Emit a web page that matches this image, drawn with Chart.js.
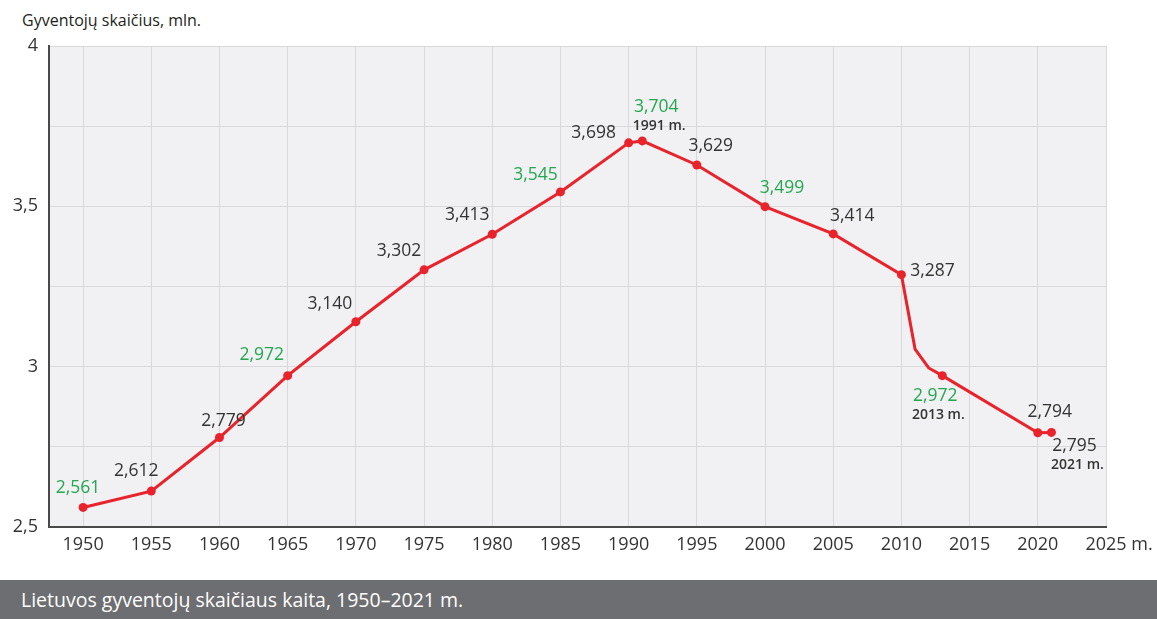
<!DOCTYPE html>
<html>
<head>
<meta charset="utf-8">
<script src="https://cdn.jsdelivr.net/npm/chart.js@4/dist/chart.umd.min.js"></script>
<style>
  body { margin: 0; width: 1157px; height: 619px; position: relative; background: #fff; overflow: hidden; font-family: 'Open Sans', sans-serif; }
  #ytitle { position: absolute; left: 22px; top: 9px; font-size: 16px; color: #231f20; }
  #wrap { position: absolute; left: 0; top: 0; width: 1157px; height: 575px; }
  #caption { position: absolute; left: 0; top: 580px; width: 1157px; height: 39px; box-sizing: border-box; padding-left: 21px;
    background: #6d6e71; color: #fff; font-size: 19.5px; line-height: 39px; }
</style>
</head>
<body>
<div id="ytitle">Gyventojų skaičius, mln.</div>
<div id="wrap"><canvas id="chart" width="1157" height="575"></canvas></div>
<div id="caption">Lietuvos gyventojų skaičiaus kaita, 1950–2021 m.</div>
<script>
// data
const years = [1950, 1955, 1960, 1965, 1970, 1975, 1980, 1985, 1990, 1991, 1995, 2000, 2005, 2010, 2011, 2012, 2013, 2020, 2021];
const population = [2.561, 2.612, 2.779, 2.972, 3.140, 3.302, 3.413, 3.545, 3.698, 3.704, 3.629, 3.499, 3.414, 3.287, 3.055, 2.996, 2.972, 2.794, 2.795];
const highlightYears = [1950, 1965, 1985, 1991, 2000, 2013];
const noteYears = [1991, 2013, 2021];
const unmarkedYears = [2011, 2012];
const xTicks = [1950, 1955, 1960, 1965, 1970, 1975, 1980, 1985, 1990, 1995, 2000, 2005, 2010, 2015, 2020, 2025];
const yTicks = [2.5, 2.75, 3, 3.25, 3.5, 3.75, 4];
const yLabels = [2.5, 3, 3.5, 4];

const RED = '#e8232b';
const GREEN = '#25a750';
const TEXT = '#333333';
const FONT = "'Open Sans', sans-serif";

// where each value label sits, relative to its point
const labelPos = {
  1950: [-5, -19], 1955: [-15, -20], 1960: [4, -17], 1965: [-26, -21], 1970: [-26, -18],
  1975: [-25, -19], 1980: [-25, -19], 1985: [-25, -17], 1990: [-35, -10], 1991: [14, -34],
  1995: [14, -19], 2000: [17, -19], 2005: [19, -18], 2010: [31, -4], 2013: [-7, 20],
  2020: [12, -21], 2021: [23, 14]
};

const fmt = v => v.toString().replace('.', ',');

const plotBackground = {
  id: 'plotBackground',
  beforeDraw(chart) {
    const { ctx, chartArea: a } = chart;
    ctx.save();
    ctx.fillStyle = '#f1f1f4';
    ctx.fillRect(a.left, a.top, a.right - a.left, a.bottom - a.top);
    ctx.restore();
  }
};

const valueLabels = {
  id: 'valueLabels',
  afterDatasetsDraw(chart) {
    const { ctx } = chart;
    const meta = chart.getDatasetMeta(0);
    ctx.save();
    ctx.textAlign = 'center';
    ctx.textBaseline = 'middle';
    meta.data.forEach((pt, i) => {
      const yr = years[i];
      const pos = labelPos[yr];
      if (!pos) return;
      const x = pt.x + pos[0];
      const y = pt.y + pos[1];
      ctx.font = '17.5px ' + FONT;
      ctx.fillStyle = highlightYears.includes(yr) ? GREEN : TEXT;
      ctx.fillText(population[i].toFixed(3).replace('.', ','), x, y);
      if (noteYears.includes(yr)) {
        ctx.font = '600 14px ' + FONT;
        ctx.fillStyle = TEXT;
        ctx.fillText(yr + ' m.', x + 3, y + 19);
      }
    });
    ctx.restore();
  }
};

// "m." after the last year on the x axis
const axisUnit = {
  id: 'axisUnit',
  afterDraw(chart) {
    const xs = chart.scales.x;
    const items = xs.getLabelItems();
    const last = items[items.length - 1];
    if (!last) return;
    const { ctx } = chart;
    ctx.save();
    ctx.font = '18px ' + FONT;
    ctx.fillStyle = TEXT;
    ctx.textAlign = 'left';
    ctx.textBaseline = last.options.textBaseline;
    const w = ctx.measureText(last.label).width;
    const [lx, ly] = last.options.translation;
    ctx.fillText(' m.', lx + w / 2, ly + (last.textOffset || 0));
    ctx.restore();
  }
};

new Chart(document.getElementById('chart'), {
  type: 'line',
  data: {
    datasets: [{
      data: years.map((yr, i) => ({ x: yr, y: population[i] })),
      borderColor: RED,
      backgroundColor: RED,
      borderWidth: 3,
      pointRadius: years.map(yr => unmarkedYears.includes(yr) ? 0 : 4.5),
      pointBorderWidth: 0,
      pointHoverRadius: 0,
      tension: 0,
      clip: false
    }]
  },
  options: {
    responsive: false,
    animation: false,
    devicePixelRatio: 1,
    layout: { padding: { top: 46, right: 51, bottom: 0, left: 0 } },
    plugins: { legend: { display: false }, tooltip: { enabled: false } },
    events: [],
    scales: {
      x: {
        type: 'linear',
        min: 1947.5,
        max: 2025,
        afterBuildTicks: s => { s.ticks = xTicks.map(v => ({ value: v })); },
        afterFit: s => { s.height = 48; },
        grid: { color: '#d9d9dc', lineWidth: 1, drawTicks: false },
        border: { display: true, color: '#4a4a4a', width: 2 },
        ticks: {
          autoSkip: false, maxRotation: 0, padding: 7,
          color: TEXT, font: { family: FONT, size: 18 },
          callback: v => String(v)
        }
      },
      y: {
        min: 2.5,
        max: 4,
        afterBuildTicks: s => { s.ticks = yTicks.map(v => ({ value: v })); },
        afterFit: s => { s.width = 49; },
        grid: { color: '#d9d9dc', lineWidth: 1, drawTicks: false },
        border: { display: true, color: '#4a4a4a', width: 2 },
        ticks: {
          padding: 11,
          color: TEXT, font: { family: FONT, size: 18 },
          callback: v => yLabels.includes(v) ? fmt(v) : ''
        }
      }
    }
  },
  plugins: [plotBackground, valueLabels, axisUnit]
});
</script>
</body>
</html>
